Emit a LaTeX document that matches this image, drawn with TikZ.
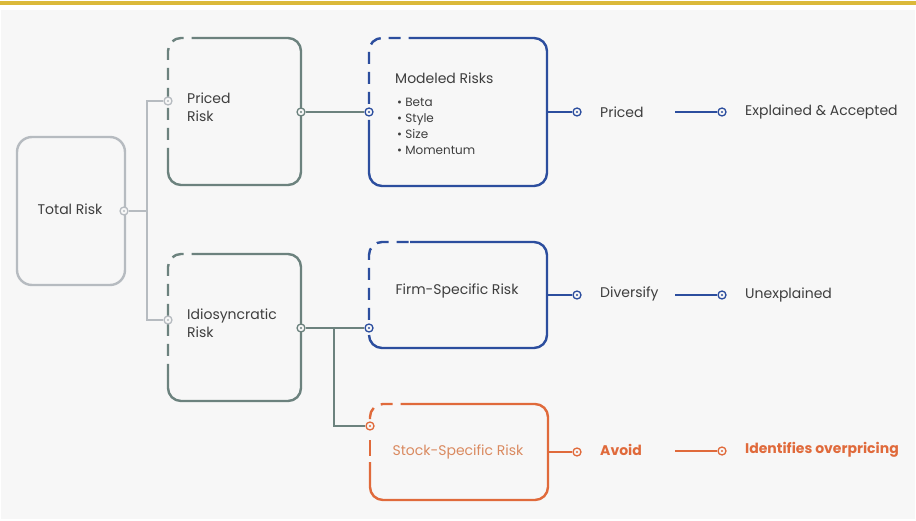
\documentclass[tikz,border=0pt]{standalone}
\usepackage{fontspec}
\setmainfont{Poppins}
\usetikzlibrary{calc}
\definecolor{bgc}{HTML}{F7F7F7}
\definecolor{ylw}{HTML}{DBB93A}
\definecolor{lgr}{HTML}{B6BBC0}
\definecolor{ggr}{HTML}{6C827E}
\definecolor{blu}{HTML}{2C4E9E}
\definecolor{org}{HTML}{E06A3B}
\definecolor{txt}{HTML}{3E3E3E}
\definecolor{otx}{HTML}{DA8A60}
\tikzset{
  dot/.style={circle, draw=#1, fill=bgc, line width=1.3pt, minimum size=8pt, inner sep=0pt,
    path picture={\fill[#1] (path picture bounding box.center) circle (1.2pt);}},
  boxarea/.style={rectangle, draw=none, inner sep=0pt},
  border/.style={line width=2.4pt, rounded corners=13pt},
  dashb/.style={line width=2.4pt, rounded corners=13pt, dash pattern=on 12pt off 8pt},
  conn/.style={line width=2.4pt},
  lbl/.style={anchor=west, inner sep=0pt, text=txt, font=\fontsize{14}{18}\selectfont},
  blbl/.style={anchor=west, inner sep=0pt, text=org, font=\fontsize{14}{18}\selectfont\bfseries},
}
\begin{document}
\begin{tikzpicture}[x=1pt,y=-1pt]
\useasboundingbox (0,0) rectangle (916,521);
\fill[white] (0,0) rectangle (916,521);
\fill[bgc] (1,10) rectangle (915,519);
\fill[ylw] (0,1) rectangle (916,5);

% Total Risk
\node[boxarea, draw=lgr, line width=2.4pt, rounded corners=15pt, minimum width=108pt, minimum height=148pt] (tot) at (71,211) {};
\node[inner sep=0pt, text=txt, font=\fontsize{14}{18}\selectfont] (totl) at (70,209) {Total Risk};
\node[dot=lgr] (c0) at (124,211) {};
\coordinate (tj) at (147,211);

% Priced Risk box
\node[boxarea, minimum width=133pt, minimum height=147pt] (pr) at (234.5,111.5) {};
\draw[ggr, border] (197,38) -- (301,38) -- (301,185) -- (168,185) -- (168,160);
\draw[ggr, dashb] (168,160) -- (168,38) -- (197,38);
\node[lbl, align=left] (prl) at (187,107.5) {Priced\\Risk};
\node[dot=lgr] (cpi) at (168,101) {};
\node[dot=ggr] (cpo) at (301,112) {};

% Idiosyncratic Risk box
\node[boxarea, minimum width=133pt, minimum height=147pt] (id) at (234.5,327.5) {};
\draw[ggr, border] (197,254) -- (301,254) -- (301,401) -- (168,401) -- (168,376);
\draw[ggr, dashb] (168,376) -- (168,254) -- (197,254);
\node[lbl, align=left] (idl) at (187,323) {Idiosyncratic\\Risk};
\node[dot=lgr] (cii) at (168,320) {};
\node[dot=ggr] (cio) at (301,328) {};

% Modeled Risks box
\node[boxarea, minimum width=178pt, minimum height=148pt] (mod) at (458,112) {};
\draw[blu, border] (410,38) -- (547,38) -- (547,186) -- (369,186) -- (369,120);
\draw[blu, dashb] (369,104) -- (369,38) -- (410,38);
\node[lbl] (modt) at (395,78) {Modeled Risks};
\node[lbl, align=left, font=\fontsize{12}{16}\selectfont] (modb) at (397,126) {• Beta\\• Style\\• Size\\• Momentum};
\node[dot=blu] (cmi) at (369,112) {};
\node[dot=blu] (cmo) at (577,112) {};

% Firm-Specific box
\node[boxarea, minimum width=178pt, minimum height=106pt] (firm) at (458,295) {};
\draw[blu, border] (410,242) -- (547,242) -- (547,348) -- (369,348) -- (369,335);
\draw[blu, dashb] (369,320) -- (369,242) -- (410,242);
\node[inner sep=0pt, text=txt, font=\fontsize{14}{18}\selectfont] (firml) at (457,291) {Firm-Specific Risk};
\node[dot=blu] (cfi) at (369,328) {};
\node[dot=blu] (cfo) at (577,295) {};

% Stock-Specific box
\node[boxarea, minimum width=178pt, minimum height=96pt] (stk) at (459,452) {};
\draw[org, border] (410,404) -- (548,404) -- (548,500) -- (370,500) -- (370,462);
\draw[org, dashb] (370,419) -- (370,404) -- (410,404);
\draw[org, line width=2.4pt] (370,440) -- (370,456);
\node[inner sep=0pt, text=otx, font=\fontsize{14}{18}\selectfont] (stkl) at (458,452) {Stock-Specific Risk};
\node[dot=org] (csi) at (370,426) {};
\node[dot=org] (cso) at (577,452) {};

% left connectors
\draw[lgr, conn] (c0) -- (tj);
\draw[lgr, conn] (cpi) -| (tj);
\draw[lgr, conn] (cii) -| (tj);
\draw[ggr, conn] (cpo) -- (cmi);
\draw[ggr, conn] (cio) -- (cfi);
\coordinate (br) at (334,328);
\draw[ggr, conn] (br) |- (csi);

% right side
\draw[blu, conn] (mod.east) -- (cmo);
\draw[blu, conn] (firm.east) -- (cfo);
\draw[org, conn] (stk.east) -- (cso);

\node[lbl] (l1) at (600,112) {Priced};
\node[lbl] (l2) at (600,294) {Diversify};
\node[blbl] (l3) at (600,450) {Avoid};

\coordinate (s1) at (675,112);
\coordinate (s2) at (675,295);
\coordinate (s3) at (675,451);
\node[dot=blu] (e1) at (722,112) {};
\node[dot=blu] (e2) at (722,295) {};
\node[dot=org] (e3) at (722,451) {};
\draw[blu, conn] (s1) -- (e1);
\draw[blu, conn] (s2) -- (e2);
\draw[org, conn] (s3) -- (e3);

\node[lbl] (r1) at (745,112) {Explained \& Accepted};
\node[lbl] (r2) at (745,295) {Unexplained};
\node[blbl] (r3) at (745,450) {Identifies overpricing};
\end{tikzpicture}
\end{document}
